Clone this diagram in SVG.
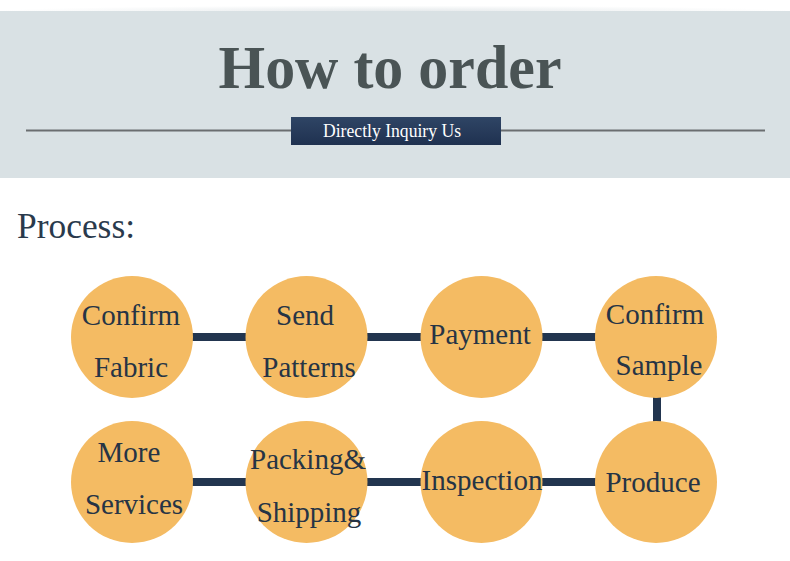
<svg xmlns="http://www.w3.org/2000/svg" width="790" height="561" viewBox="0 0 790 561">
<defs>
<style>
.node circle{fill:#f4bb63}
.node text{font-family:"Liberation Serif","Times New Roman",serif;font-size:29px;fill:#263445;text-anchor:middle}
.conn{stroke:#22354f;stroke-width:8;fill:none}
</style>
<linearGradient id="btn" x1="0" y1="0" x2="0" y2="1">
<stop offset="0" stop-color="#2f4565"/>
<stop offset="1" stop-color="#1f3150"/>
</linearGradient>
<radialGradient id="shade" cx="0.5" cy="1" r="0.5">
<stop offset="0" stop-color="#e6eaec"/>
<stop offset="1" stop-color="#ffffff"/>
</radialGradient>
</defs>
<rect width="790" height="561" fill="#ffffff"/>
<g id="header">
<rect x="0" y="0" width="790" height="11" fill="url(#shade)"/>
<rect x="0" y="11" width="790" height="167" fill="#d9e1e4"/>
<text x="390" y="88" font-family="'Liberation Serif','Times New Roman',serif" font-weight="bold" font-size="61" fill="#4a5455" text-anchor="middle" textLength="343" lengthAdjust="spacingAndGlyphs">How to order</text>
<line x1="26" y1="130.5" x2="765" y2="130.5" stroke="#6b6e70" stroke-width="2"/>
<rect x="291" y="117" width="210" height="28" fill="url(#btn)"/>
<text x="392" y="137" font-family="'Liberation Serif','Times New Roman',serif" font-size="18" fill="#ffffff" text-anchor="middle" textLength="138" lengthAdjust="spacingAndGlyphs">Directly Inquiry Us</text>
</g>
<text x="17" y="238" font-family="'Liberation Serif','Times New Roman',serif" font-size="35" fill="#2a3a4c" textLength="118" lengthAdjust="spacingAndGlyphs">Process:</text>
<g id="connectors">
<line class="conn" x1="190" y1="337" x2="249" y2="337"/>
<line class="conn" x1="364" y1="337" x2="424" y2="337"/>
<line class="conn" x1="539" y1="337" x2="598" y2="337"/>
<line class="conn" x1="657" y1="395" x2="657" y2="424"/>
<line class="conn" x1="190" y1="482" x2="249" y2="482"/>
<line class="conn" x1="364" y1="482" x2="424" y2="482"/>
<line class="conn" x1="539" y1="482" x2="598" y2="482"/>
</g>
<g id="n1" class="node"><circle cx="132" cy="337" r="61"/><text x="131" y="325">Confirm</text><text x="131" y="377">Fabric</text></g>
<g id="n2" class="node"><circle cx="306.5" cy="337" r="61"/><text x="305" y="325">Send</text><text x="309" y="377">Patterns</text></g>
<g id="n3" class="node"><circle cx="481.5" cy="337" r="61"/><text x="480" y="344">Payment</text></g>
<g id="n4" class="node"><circle cx="656" cy="337" r="61"/><text x="655" y="324">Confirm</text><text x="659" y="375">Sample</text></g>
<g id="n5" class="node"><circle cx="656" cy="482" r="61"/><text x="653" y="492">Produce</text></g>
<g id="n6" class="node"><circle cx="481.5" cy="482" r="61"/><text x="482" y="490">Inspection</text></g>
<g id="n7" class="node"><circle cx="306.5" cy="482" r="61"/><text x="308" y="469">Packing&amp;</text><text x="309" y="522">Shipping</text></g>
<g id="n8" class="node"><circle cx="132" cy="482" r="61"/><text x="129" y="462">More</text><text x="134" y="514">Services</text></g>
</svg>
